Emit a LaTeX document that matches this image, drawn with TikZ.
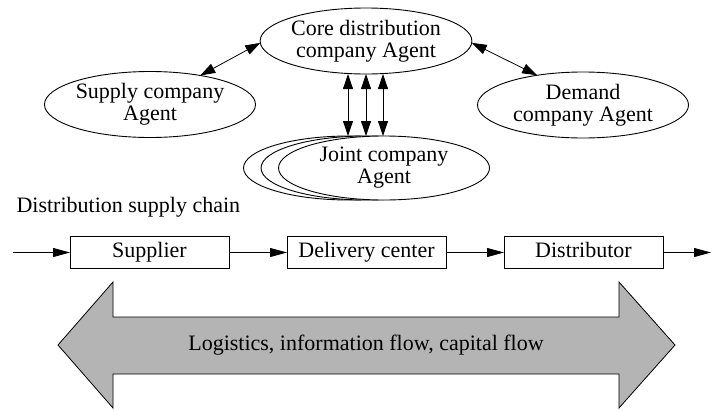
\documentclass[tikz,border=0pt]{standalone}
\usepackage{fontspec}
\setmainfont{Liberation Serif}
\usetikzlibrary{arrows.meta,shapes.geometric}
\definecolor{flowgray}{RGB}{180,180,180}
\begin{document}
\begin{tikzpicture}[x=1pt,y=-1pt,
  every node/.style={font=\fontsize{22}{22}\selectfont},
  agent/.style={ellipse,draw,fill=white,line width=0.9pt,inner sep=0pt,outer sep=0pt,
    minimum width=211pt,minimum height=66pt,align=center},
  stage/.style={rectangle,draw,line width=0.9pt,minimum width=159pt,minimum height=32pt,
    inner sep=0pt,outer sep=0pt,text height=15pt,text depth=5pt},
  link/.style={line width=0.8pt,{Triangle[length=15pt,width=10pt]}-{Triangle[length=15pt,width=10pt]}},
  flow/.style={line width=0.8pt,-{Triangle[length=17pt,width=9pt]}},
]
\useasboundingbox (0,0) rectangle (712,410);

% agents
\node[agent] (core) at (366,41) {Core distribution\\company Agent};
\node[agent] (supply) at (150,104.5) {Supply company\\Agent};
\node[agent] (demand) at (583,105) {Demand\\company Agent};
\node[agent,minimum height=64pt] (jointC) at (349,168) {};
\node[agent,minimum height=64pt] (jointB) at (366.5,168) {};
\node[agent,minimum height=64pt] (joint) at (384,168) {Joint company\\Agent};

% agent interactions
\draw[link] (supply.30) -- (core.181);
\draw[link] (core.-1) -- (demand.147);
\foreach \dx in {-18,0,17}
  \draw[link] ([xshift=\dx pt]core.south) -- ([xshift=\dx pt]core.south |- joint.north);

% supply chain
\node[anchor=base west] (chainlabel) at (13,212) {Distribution supply chain};
\coordinate (in) at (13,252.5);
\node[stage] (supplier) at (149.5,252.5) {Supplier};
\node[stage] (center) at (366.5,252.5) {Delivery center};
\node[stage] (distributor) at (583.5,252.5) {Distributor};
\coordinate (out) at (711,252.5);
\draw[flow] (in) -- (supplier);
\draw[flow] (supplier) -- (center);
\draw[flow] (center) -- (distributor);
\draw[flow] (distributor) -- (out);

% two-way flow band
\draw[line width=0.8pt,fill=flowgray]
  (58,345) -- (113,282) -- (113,317) -- (619,317) -- (619,282) -- (675,345)
  -- (619,408) -- (619,374) -- (113,374) -- (113,408) -- cycle;
\node (flows) at (366,345) {Logistics, information flow, capital flow};
\end{tikzpicture}
\end{document}
